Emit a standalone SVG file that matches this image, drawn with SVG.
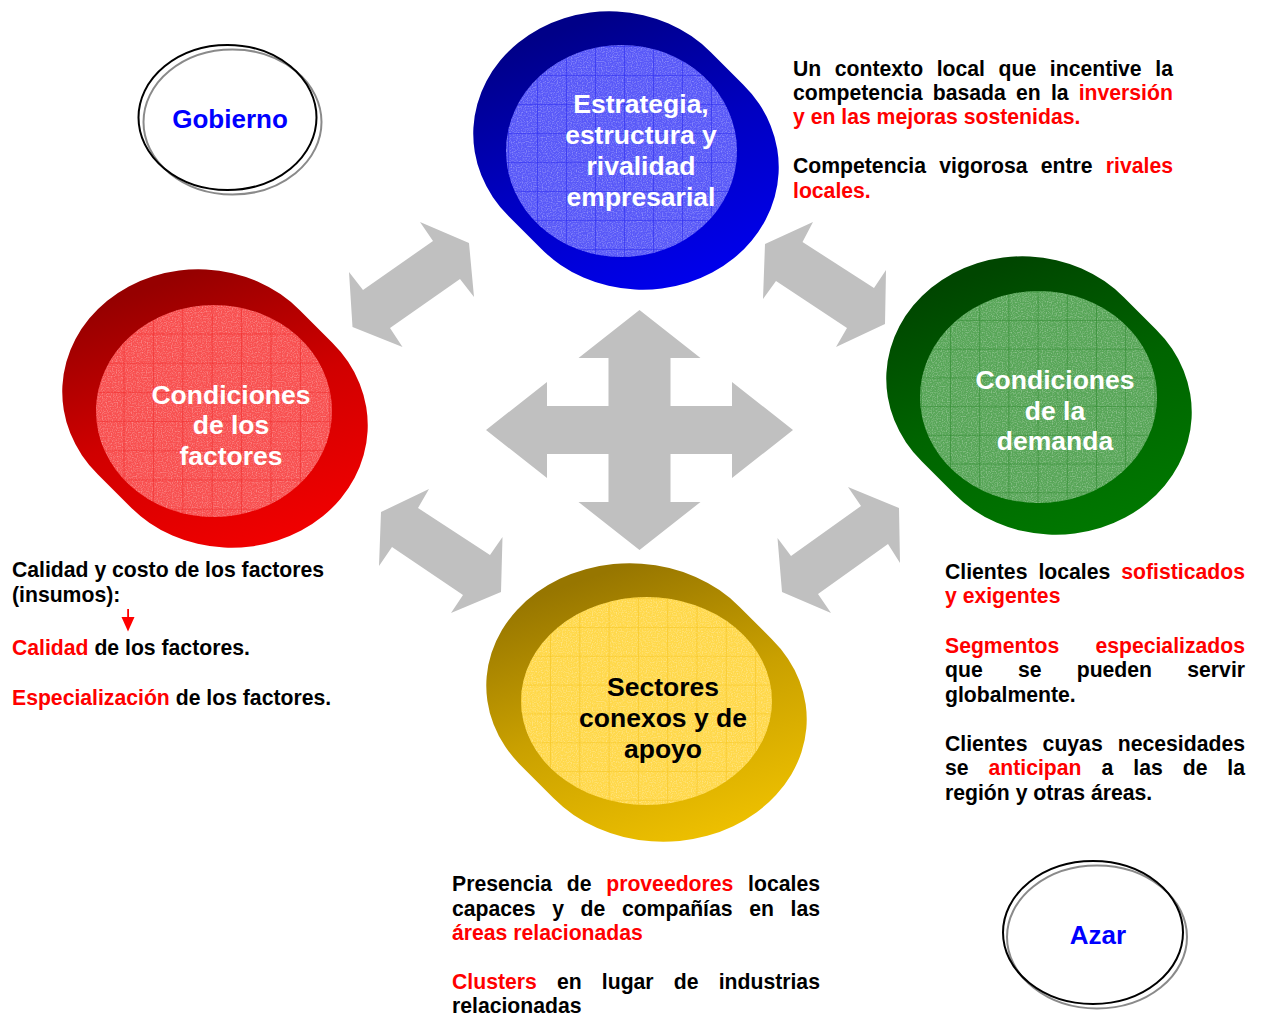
<svg xmlns="http://www.w3.org/2000/svg" width="1261" height="1015" viewBox="0 0 1261 1015">
<style>
.t{font-family:"Liberation Sans",Arial,sans-serif;font-weight:bold;font-size:21.2px;fill:#000}
.r{fill:#FF0000}
.n{font-family:"Liberation Sans",Arial,sans-serif;font-weight:bold;font-size:26.5px;fill:#fff;text-anchor:middle}
.k{fill:#000}
.ol{font-family:"Liberation Sans",Arial,sans-serif;font-weight:bold;font-size:26px;fill:#0000FF;text-anchor:middle}
.arrow{fill:#C0C0C0}
.ring1{fill:none;stroke:#000;stroke-width:2}
.ring2{fill:none;stroke:#8a8a8a;stroke-width:2}
.noise{fill:#fff;filter:url(#speckle)}
</style>
<defs>
<linearGradient id="gB" x1="0.45" y1="0" x2="0.85" y2="1"><stop offset="0" stop-color="#000088"/><stop offset="0.45" stop-color="#0000C0"/><stop offset="1" stop-color="#0000F2"/></linearGradient>
<linearGradient id="gR" x1="0.45" y1="0" x2="0.85" y2="1"><stop offset="0" stop-color="#960000"/><stop offset="0.45" stop-color="#D00000"/><stop offset="1" stop-color="#F50000"/></linearGradient>
<linearGradient id="gG" x1="0.45" y1="0" x2="0.85" y2="1"><stop offset="0" stop-color="#004600"/><stop offset="0.45" stop-color="#006400"/><stop offset="1" stop-color="#007A00"/></linearGradient>
<linearGradient id="gY" x1="0.45" y1="0" x2="0.85" y2="1"><stop offset="0" stop-color="#977600"/><stop offset="0.45" stop-color="#C9A000"/><stop offset="1" stop-color="#F2C400"/></linearGradient>
<pattern id="pB" patternUnits="userSpaceOnUse" x="537" y="75" width="29" height="29"><path d="M0 0H29M0 0V29" stroke="#2A2AF0" stroke-width="1.2"/></pattern>
<pattern id="pR" patternUnits="userSpaceOnUse" x="123.5" y="333.5" width="29.4" height="29.2"><path d="M0 0H30M0 0V30" stroke="#F02828" stroke-width="1.2"/></pattern>
<pattern id="pG" patternUnits="userSpaceOnUse" x="950" y="320" width="29.2" height="28.7"><path d="M0 0H30M0 0V30" stroke="#2E8A2E" stroke-width="1.2"/></pattern>
<pattern id="pY" patternUnits="userSpaceOnUse" x="550" y="627" width="29.3" height="28.8"><path d="M0 0H30M0 0V30" stroke="#F6C520" stroke-width="1.2"/></pattern>
<filter id="speckle" x="0" y="0" width="1" height="1">
<feTurbulence type="fractalNoise" baseFrequency="0.8" numOctaves="1" seed="7" result="n"/>
<feColorMatrix in="n" type="matrix" values="0 0 0 0 1  0 0 0 0 1  0 0 0 0 1  0 0 0 -0.9 0.5" result="a"/>
<feComposite in="a" in2="SourceGraphic" operator="in"/>
</filter>
</defs>
<rect width="1261" height="1015" fill="#fff"/>

<g id="connectors">
<polygon class="arrow" points="639.5,310 700.5,358 670.5,358 670.5,406 732,406 732,382 793,430 732,478 732,454 670.5,454 670.5,502 700.5,502 639.5,550 578.5,502 608.5,502 608.5,454 547,454 547,478 486,430 547,382 547,406 608.5,406 608.5,358 578.5,358"/>
<polygon class="arrow" points="433,241 420,222 469,243 474,297 460,279 390,328 402.5,347 352.5,327 349,272 363,290"/>
<polygon class="arrow" points="802.5,242 813,222 765,244 763,299 776,281 847,328 836,347 885,324 886,270 874,288"/>
<polygon class="arrow" points="418,508 429,489 381,512 379,566 392,547 463,595 451,613 501,592 502.5,537 490,555"/>
<polygon class="arrow" points="861,506 848,487 899,508 900,563 888,544 818,594 831,613 782,592 777.5,538 791,556"/>
</g>

<g id="node-estrategia">
<path fill="url(#gB)" d="M711.06,52.53 L743.06,84.53 A136,122.5 0 1 1 540.94,248.47 L508.94,216.47 A136,122.5 0 1 1 711.06,52.53 Z"/>
<ellipse cx="621.5" cy="151" rx="115.5" ry="106" fill="#5858F8"/>
<ellipse class="noise" cx="621.5" cy="151" rx="115.5" ry="106"/>
<ellipse cx="621.5" cy="151" rx="115.5" ry="106" fill="url(#pB)"/>
<text class="n"><tspan x="641" y="113">Estrategia,</tspan><tspan x="641" y="144">estructura y</tspan><tspan x="641" y="175">rivalidad</tspan><tspan x="641" y="206">empresarial</tspan></text>
</g>

<g id="node-factores">
<path fill="url(#gR)" d="M300.06,310.53 L332.06,342.53 A136,122.5 0 1 1 129.94,506.47 L97.94,474.47 A136,122.5 0 1 1 300.06,310.53 Z"/>
<ellipse cx="214" cy="411" rx="118" ry="106" fill="#F85050"/>
<ellipse class="noise" cx="214" cy="411" rx="118" ry="106"/>
<ellipse cx="214" cy="411" rx="118" ry="106" fill="url(#pR)"/>
<text class="n"><tspan x="231" y="404">Condiciones</tspan><tspan x="231" y="434">de los</tspan><tspan x="231" y="465">factores</tspan></text>
</g>

<g id="node-demanda">
<path fill="url(#gG)" d="M1124.06,297.53 L1156.06,329.53 A136,122.5 0 1 1 953.94,493.47 L921.94,461.47 A136,122.5 0 1 1 1124.06,297.53 Z"/>
<ellipse cx="1038.5" cy="397" rx="118.5" ry="106" fill="#58A658"/>
<ellipse class="noise" cx="1038.5" cy="397" rx="118.5" ry="106"/>
<ellipse cx="1038.5" cy="397" rx="118.5" ry="106" fill="url(#pG)"/>
<text class="n"><tspan x="1055" y="389">Condiciones</tspan><tspan x="1055" y="420">de la</tspan><tspan x="1055" y="450">demanda</tspan></text>
</g>

<g id="node-sectores">
<path fill="url(#gY)" d="M739.63,606.96 L771.63,638.96 A143.5,122.5 0 1 1 553.37,798.04 L521.37,766.04 A143.5,122.5 0 1 1 739.63,606.96 Z"/>
<ellipse cx="646.5" cy="701" rx="125.5" ry="104" fill="#FFD84A"/>
<ellipse class="noise" cx="646.5" cy="701" rx="125.5" ry="104"/>
<ellipse cx="646.5" cy="701" rx="125.5" ry="104" fill="url(#pY)"/>
<text class="n k"><tspan x="663" y="696">Sectores</tspan><tspan x="663" y="727">conexos y de</tspan><tspan x="663" y="758">apoyo</tspan></text>
</g>

<g id="node-gobierno">
<ellipse class="ring2" cx="232.5" cy="122" rx="89" ry="72.5"/>
<ellipse class="ring1" cx="227.5" cy="117.5" rx="89" ry="72.5"/>
<text class="ol" x="230" y="128">Gobierno</text>
</g>

<g id="node-azar">
<ellipse class="ring2" cx="1097" cy="937" rx="90" ry="71.5"/>
<ellipse class="ring1" cx="1093" cy="932.5" rx="90" ry="71.5"/>
<text class="ol" x="1098" y="944">Azar</text>
</g>

<g id="text-estrategia">
<text class="t" y="75.5"><tspan x="793">Un</tspan><tspan x="834.8">contexto</tspan><tspan x="936.7">local</tspan><tspan x="998.6">que</tspan><tspan x="1049.8">incentive</tspan><tspan x="1155.3">la</tspan></text>
<text class="t" y="99.5"><tspan x="793">competencia</tspan><tspan x="932.8">basada</tspan><tspan x="1016">en</tspan><tspan x="1050.9">la</tspan><tspan x="1078.7" class="r">inversión</tspan></text>
<text class="t r" x="793" y="124">y en las mejoras sostenidas.</text>
<text class="t" y="173"><tspan x="793">Competencia</tspan><tspan x="939.3">vigorosa</tspan><tspan x="1040.8">entre</tspan><tspan x="1105.8" class="r">rivales</tspan></text>
<text class="t r" x="793" y="197.5">locales.</text>
</g>

<g id="text-factores">
<text class="t" x="12" y="577">Calidad y costo de los factores</text>
<text class="t" x="12" y="601.5">(insumos):</text>
<rect x="127.2" y="609" width="1.8" height="9" fill="#FF0000"/>
<polygon points="121.5,617 134.5,617 128,631.5" fill="#FF0000"/>
<text class="t" x="12" y="655"><tspan class="r">Calidad</tspan> de los factores.</text>
<text class="t" x="12" y="705"><tspan class="r">Especialización</tspan> de los factores.</text>
</g>

<g id="text-demanda">
<text class="t" y="579"><tspan x="945">Clientes</tspan><tspan x="1038.4">locales</tspan><tspan x="1121.3" class="r">sofisticados</tspan></text>
<text class="t r" x="945" y="603">y exigentes</text>
<text class="t r" y="652.5"><tspan x="945">Segmentos</tspan><tspan x="1095.4">especializados</tspan></text>
<text class="t" y="677"><tspan x="945">que</tspan><tspan x="1017.9">se</tspan><tspan x="1076.7">pueden</tspan><tspan x="1187.3">servir</tspan></text>
<text class="t" x="945" y="701.5">globalmente.</text>
<text class="t" y="750.5"><tspan x="945">Clientes</tspan><tspan x="1042.6">cuyas</tspan><tspan x="1117.8">necesidades</tspan></text>
<text class="t" y="775"><tspan x="945">se</tspan><tspan x="988.5" class="r">anticipan</tspan><tspan x="1101.5">a</tspan><tspan x="1133.3">las</tspan><tspan x="1182.7">de</tspan><tspan x="1227.3">la</tspan></text>
<text class="t" x="945" y="799.5">región y otras áreas.</text>
</g>

<g id="text-sectores">
<text class="t" y="891"><tspan x="452">Presencia</tspan><tspan x="566.8">de</tspan><tspan x="606.2" class="r">proveedores</tspan><tspan x="748.1">locales</tspan></text>
<text class="t" y="915.5"><tspan x="452">capaces</tspan><tspan x="552.3">y</tspan><tspan x="580.6">de</tspan><tspan x="621.9">compañías</tspan><tspan x="749.2">en</tspan><tspan x="790.6">las</tspan></text>
<text class="t r" x="452" y="940">áreas relacionadas</text>
<text class="t" y="989"><tspan x="452" class="r">Clusters</tspan><tspan x="557">en</tspan><tspan x="601.8">lugar</tspan><tspan x="673.8">de</tspan><tspan x="718.7">industrias</tspan></text>
<text class="t" x="452" y="1013">relacionadas</text>
</g>
</svg>
